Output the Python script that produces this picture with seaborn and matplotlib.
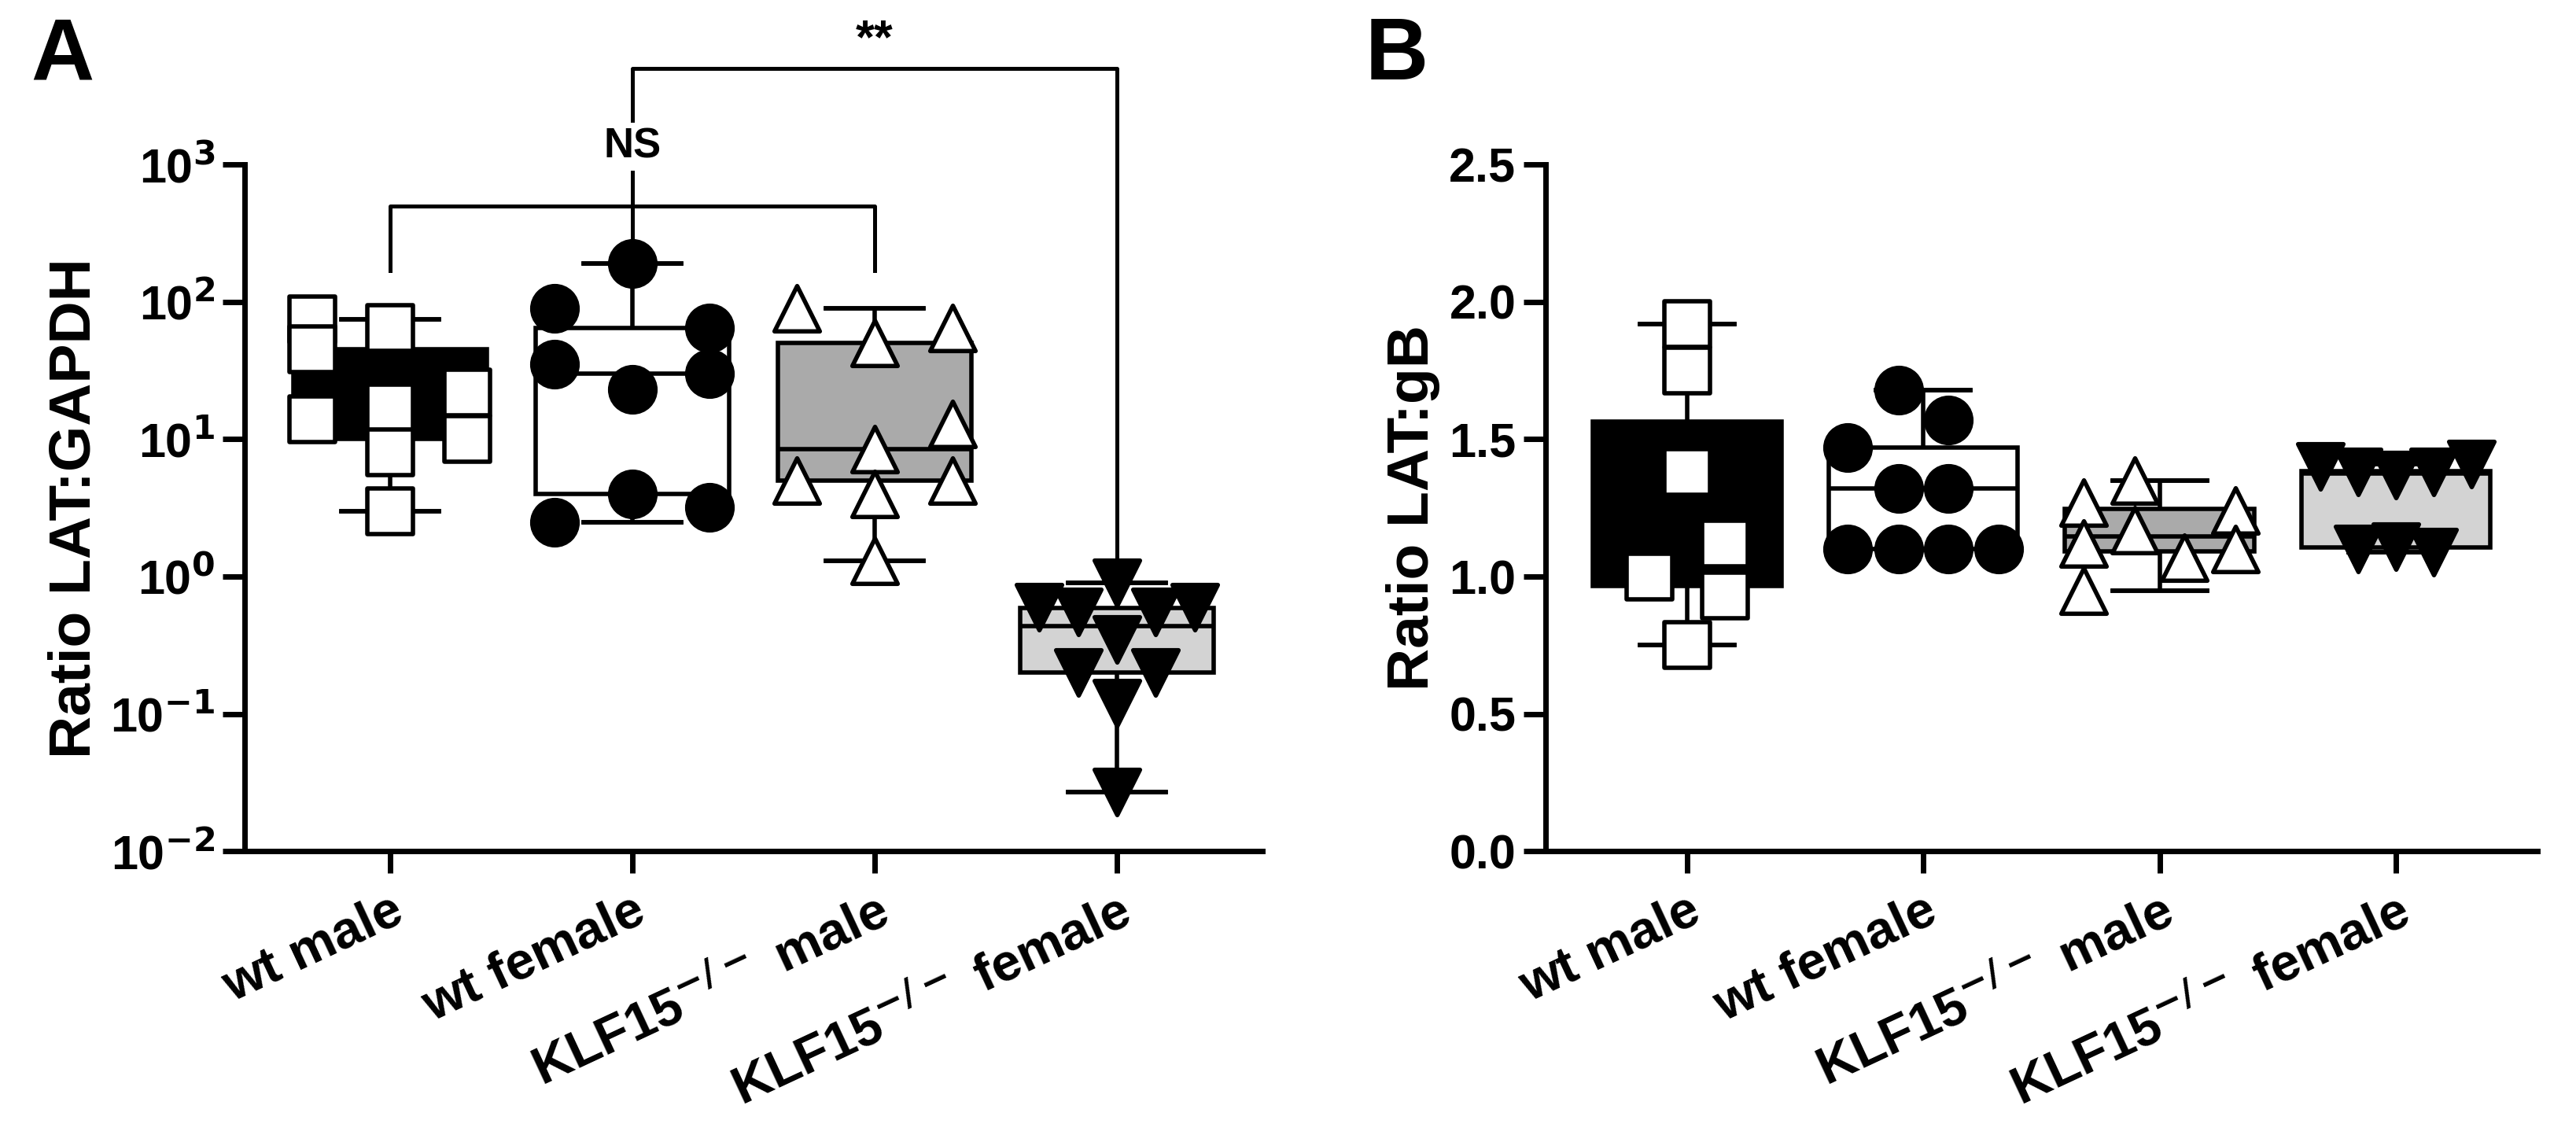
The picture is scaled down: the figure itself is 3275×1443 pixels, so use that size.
import numpy as np
import pandas as pd
import seaborn as sns
import matplotlib.pyplot as plt

plt.rcParams['font.family'] = 'Liberation Sans'
plt.rcParams['font.weight'] = 'bold'
plt.rcParams['mathtext.default'] = 'bf'

groups = ['wt male', 'wt female', 'KLF15$^{-/-}$male', 'KLF15$^{-/-}$female']
box_colors = ['#000000', '#ffffff', '#aaaaaa', '#d3d3d3']
marker_styles = ['s', 'o', '^', 'v']
marker_faces = ['white', 'black', 'white', 'black']

# Panel A: LAT:GAPDH (log scale)
gapdh_wt_m = [75, 45, 14, 65, 17, 8, 3, 22, 10]
gapdh_wt_m_col = [-1, -1, -1, 0, 0, 0, 0, 1, 1]
gapdh_wt_f = [90, 35, 2.5, 190, 23, 4, 65, 30, 3.2]
gapdh_wt_f_col = [-1, -1, -1, 0, 0, 0, 1, 1, 1]
gapdh_ko_m = [90, 5, 50, 8.5, 4, 1.3, 65, 13, 5]
gapdh_ko_m_col = [-1, -1, 0, 0, 0, 0, 1, 1, 1]
gapdh_ko_f = [0.6, 0.55, 0.2, 0.9, 0.35, 0.12, 0.027, 0.55, 0.2, 0.6]
gapdh_ko_f_col = [-1, -0.5, -0.5, 0, 0, 0, 0, 0.5, 0.5, 1]

# Panel B: LAT:gB
gb_wt_m = [1.92, 1.75, 1.38, 0.75, 1.0, 1.12, 0.93]
gb_wt_m_col = [0, 0, 0, 0, -0.5, 0.5, 0.5]
gb_wt_f = [1.47, 1.1, 1.68, 1.32, 1.1, 1.57, 1.32, 1.1, 1.1]
gb_wt_f_col = [-1, -1, -0.33, -0.33, -0.33, 0.33, 0.33, 0.33, 1]
gb_ko_m = [1.27, 1.12, 0.95, 1.35, 1.17, 1.07, 1.24, 1.10]
gb_ko_m_col = [-1, -1, -1, -0.33, -0.33, 0.33, 1, 1]
gb_ko_f = [1.40, 1.38, 1.37, 1.38, 1.41, 1.10, 1.11, 1.09]
gb_ko_f_col = [-1, -0.5, 0, 0.5, 1, -0.5, 0, 0.5]

panel_a = [(gapdh_wt_m, gapdh_wt_m_col), (gapdh_wt_f, gapdh_wt_f_col),
           (gapdh_ko_m, gapdh_ko_m_col), (gapdh_ko_f, gapdh_ko_f_col)]
panel_b = [(gb_wt_m, gb_wt_m_col), (gb_wt_f, gb_wt_f_col),
           (gb_ko_m, gb_ko_m_col), (gb_ko_f, gb_ko_f_col)]


def to_frame(panel):
    rows = []
    for g, (vals, cols) in zip(groups, panel):
        for v, c in zip(vals, cols):
            rows.append({'group': g, 'value': v, 'col': c})
    return pd.DataFrame(rows)


def draw(ax, panel, log):
    df = to_frame(panel)
    sns.boxplot(data=df, x='group', y='value', order=groups, hue='group',
                palette=dict(zip(groups, box_colors)), whis=(0, 100),
                width=0.8, linewidth=2, linecolor='black', showfliers=False,
                log_scale=log, legend=False, ax=ax,
                capprops=dict(linewidth=2), whiskerprops=dict(linewidth=2))
    for i, (vals, cols) in enumerate(panel):
        for line_y in (min(vals), max(vals)):
            ax.plot([i - 0.2, i + 0.2], [line_y, line_y], color='black', lw=2, zorder=2)
        xs = i + np.array(cols) * 0.32
        ax.scatter(xs, vals, marker=marker_styles[i], s=430,
                   facecolor=marker_faces[i], edgecolor='black', linewidth=2, zorder=3)
    ax.set_xlabel('')
    ax.set_xlim(-0.6, 3.6)
    ax.tick_params(axis='both', width=2.5, length=10, labelsize=22)
    ax.tick_params(axis='x', pad=6)
    ax.set_xticks(range(4))
    ax.set_xticklabels([g.replace('$male', '$ male').replace('$female', '$ female') for g in groups])
    plt.setp(ax.get_xticklabels(), rotation=25, ha='right', rotation_mode='anchor',
             fontsize=24, fontweight='bold')
    for lab in ax.get_yticklabels():
        lab.set_fontweight('bold')
    for s in ['top', 'right']:
        ax.spines[s].set_visible(False)
    for s in ['left', 'bottom']:
        ax.spines[s].set_linewidth(2.5)


fig = plt.figure(figsize=(16.375, 7.215), dpi=200)
ax1 = fig.add_axes([0.095, 0.25, 0.395, 0.605])
ax2 = fig.add_axes([0.6, 0.25, 0.385, 0.605])

draw(ax1, panel_a, True)
ax1.set_ylim(1e-2, 1e3)
ax1.set_yticks([1e-2, 1e-1, 1e0, 1e1, 1e2, 1e3])
ax1.set_yticklabels(['10$^{-2}$', '10$^{-1}$', '10$^{0}$', '10$^{1}$', '10$^{2}$', '10$^{3}$'])
ax1.minorticks_off()
ax1.set_ylabel('Ratio LAT:GAPDH', fontsize=27, fontweight='bold')

draw(ax2, panel_b, False)
ax2.set_ylim(0, 2.5)
ax2.set_yticks(np.arange(0, 2.51, 0.5))
ax2.set_yticklabels([f'{v:.1f}' for v in np.arange(0, 2.51, 0.5)])
ax2.set_ylabel('Ratio LAT:gB', fontsize=27, fontweight='bold')

# significance brackets on panel A
kw = dict(color='black', lw=1.8, clip_on=False)
ax1.plot([0, 0, 2, 2], [170, 500, 500, 170], **kw)
ax1.plot([1, 1], [280, 500], **kw)
ax1.plot([1, 1, 3, 3], [500, 5000, 5000, 0.8], **kw)
ax1.text(1, 1350, 'NS', ha='center', va='center', fontsize=19, fontweight='bold',
         bbox=dict(facecolor='white', edgecolor='none', pad=2), zorder=5)
ax1.text(2, 8000, '**', ha='center', va='center', fontsize=22, fontweight='bold')

fig.text(0.012, 0.93, 'A', fontsize=40, fontweight='bold')
fig.text(0.53, 0.93, 'B', fontsize=40, fontweight='bold')

fig.savefig('out.png', dpi=200)
